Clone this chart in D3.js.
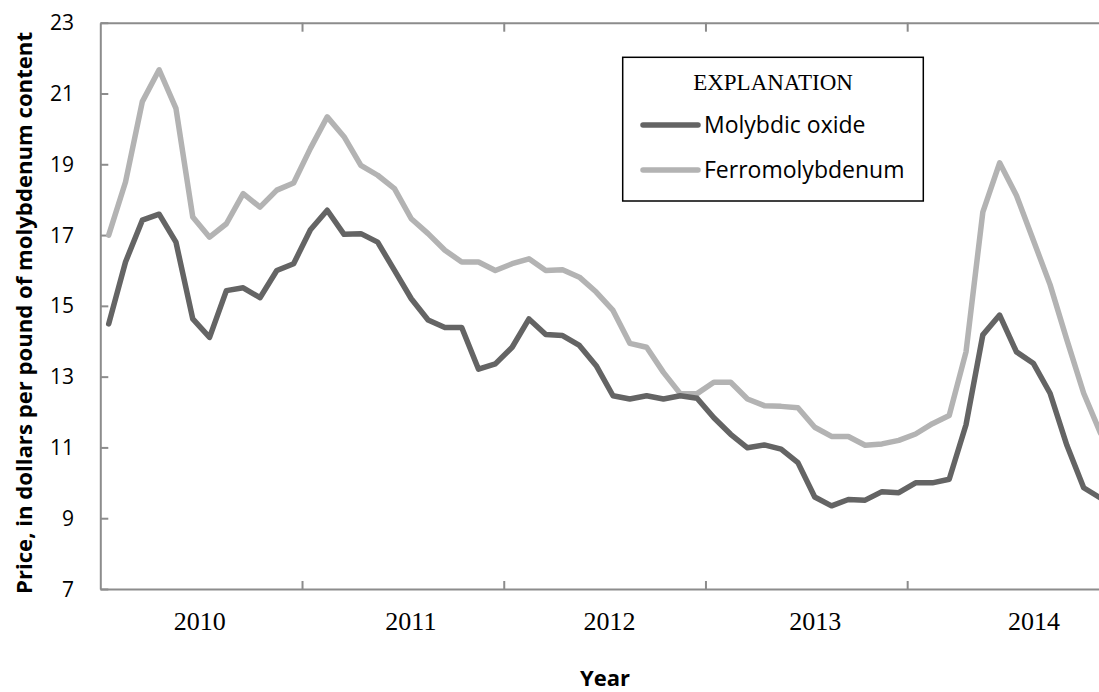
<!DOCTYPE html>
<html>
 <head>
    <style>
        body { margin: 0; background: #fff; }
        svg { display: block; }
        .axis path, .axis line { stroke: #8c8c8c; stroke-width: 2; }
        .lbl { font-family: 'Open Sans', sans-serif; fill: #000; }
        .yr { font-family: 'Liberation Serif', 'Times New Roman', serif; fill: #000; }
    </style>
    <script src="https://d3js.org/d3.v7.min.js"></script>
 </head>
 <body>
    <div id="chart"></div>
    <script>
        // monthly prices, Jan 2010 .. Dec 2014 (dollars per pound Mo content)
        var years = ["2010", "2011", "2012", "2013", "2014"];
        var yTicks = [7, 9, 11, 13, 15, 17, 19, 21, 23];
        var seriesNames = ["Molybdic oxide", "Ferromolybdenum"];
        var oxide = [14.49, 16.24, 17.42, 17.59, 16.8, 14.63, 14.11, 15.43, 15.51, 15.23, 16.0, 16.19,
                     17.15, 17.7, 17.02, 17.04, 16.8, 16.0, 15.2, 14.6, 14.39, 14.39, 13.21, 13.36,
                     13.83, 14.63, 14.19, 14.16, 13.88, 13.31, 12.46, 12.37, 12.46, 12.37, 12.46, 12.39,
                     11.84, 11.37, 10.99, 11.07, 10.95, 10.57, 9.6, 9.35, 9.53, 9.51, 9.75, 9.72,
                     10.0, 10.0, 10.1, 11.64, 14.18, 14.74, 13.7, 13.38, 12.53, 11.06, 9.86, 9.57];
        var ferro = [17.0, 18.5, 20.77, 21.67, 20.58, 17.51, 16.94, 17.32, 18.17, 17.79, 18.27, 18.47,
                     19.45, 20.34, 19.78, 18.97, 18.69, 18.31, 17.46, 17.04, 16.57, 16.24, 16.24, 16.0,
                     16.19, 16.33, 16.0, 16.02, 15.81, 15.39, 14.87, 13.94, 13.83, 13.12, 12.52, 12.52,
                     12.84, 12.84, 12.37, 12.18, 12.16, 12.12, 11.57, 11.31, 11.31, 11.06, 11.1, 11.2,
                     11.38, 11.67, 11.9, 13.7, 17.65, 19.04, 18.12, 16.86, 15.6, 14.04, 12.53, 11.4];
        var colors = ["#646464", "#b3b3b3"];

        var W = 1099, H = 692;
        var plotLeft = 100.3, plotTop = 22.7, plotBottom = 589, monthW = 16.81;
        var nMonths = years.length * 12;

        var svg = d3.select("#chart").append("svg").attr("width", W).attr("height", H);

        var x = d3.scaleLinear().domain([0, nMonths]).range([plotLeft, plotLeft + nMonths * monthW]);
        var y = d3.scaleLinear().domain([7, 23]).range([plotBottom, plotTop]);
        var boundaries = d3.range(0, nMonths + 1, 12);

        // top border with inward ticks
        svg.append("g").attr("class", "axis")
            .attr("transform", "translate(0," + plotTop + ")")
            .call(d3.axisTop(x).tickValues(boundaries.slice(1)).tickSize(-9).tickSizeOuter(0).tickFormat(""));

        // bottom axis
        svg.append("g").attr("class", "axis")
            .attr("transform", "translate(0," + plotBottom + ")")
            .call(d3.axisBottom(x).tickValues(boundaries.slice(1)).tickSize(-8).tickSizeOuter(0).tickFormat(""));

        // year labels, nudged a bit like the original text boxes
        var nudge = [-1.5, 8, 5, 9, 26];
        svg.selectAll(".yr").data(years).join("text")
            .attr("class", "yr")
            .attr("x", function (d, i) { return x(i * 12 + 6) + nudge[i]; })
            .attr("y", 630)
            .attr("text-anchor", "middle")
            .attr("font-size", 26)
            .text(function (d) { return d; });

        // left axis
        svg.append("g").attr("class", "axis")
            .attr("transform", "translate(" + plotLeft + ",0)")
            .call(d3.axisRight(y).tickValues(yTicks).tickSize(8).tickSizeOuter(0).tickFormat(""));
        svg.selectAll(".ytl").data(yTicks).join("text")
            .attr("class", "lbl ytl")
            .attr("x", 74)
            .attr("y", function (d) { return y(d); })
            .attr("dy", "0.36em")
            .attr("text-anchor", "end")
            .attr("font-size", 21)
            .text(function (d) { return d; });

        // lines
        var line = d3.line()
            .x(function (d, i) { return x(i + 0.5); })
            .y(function (d) { return y(d); });
        [[ferro, colors[1]], [oxide, colors[0]]].forEach(function (s) {
            svg.append("path")
                .attr("d", line(s[0]))
                .attr("fill", "none")
                .attr("stroke", s[1])
                .attr("stroke-width", 5.5)
                .attr("stroke-linejoin", "round")
                .attr("stroke-linecap", "round");
        });

        // axis titles
        svg.append("text").attr("class", "lbl")
            .attr("transform", "translate(31.5,313) rotate(-90)")
            .attr("text-anchor", "middle")
            .attr("font-size", 22).attr("font-weight", "bold")
            .attr("textLength", 562).attr("lengthAdjust", "spacingAndGlyphs")
            .text("Price, in dollars per pound of molybdenum content");
        svg.append("text").attr("class", "lbl")
            .attr("x", 605).attr("y", 686)
            .attr("text-anchor", "middle")
            .attr("font-size", 22).attr("font-weight", "bold")
            .text("Year");

        // legend
        var lg = svg.append("g");
        lg.append("rect").attr("x", 622.7).attr("y", 57.3).attr("width", 300.6).attr("height", 143.7)
            .attr("fill", "#fff").attr("stroke", "#000").attr("stroke-width", 1.5);
        lg.append("text").attr("class", "yr")
            .attr("x", 773).attr("y", 90).attr("text-anchor", "middle")
            .attr("font-size", 23).text("EXPLANATION");
        seriesNames.forEach(function (name, i) {
            var ly = 125 + i * 45;
            lg.append("line").attr("x1", 643).attr("x2", 698).attr("y1", ly).attr("y2", ly)
                .attr("stroke", colors[i]).attr("stroke-width", 5.5).attr("stroke-linecap", "round");
            lg.append("text").attr("class", "lbl")
                .attr("x", 704).attr("y", ly + 8).attr("font-size", 23).text(name);
        });
    </script>
 </body>
</html>
